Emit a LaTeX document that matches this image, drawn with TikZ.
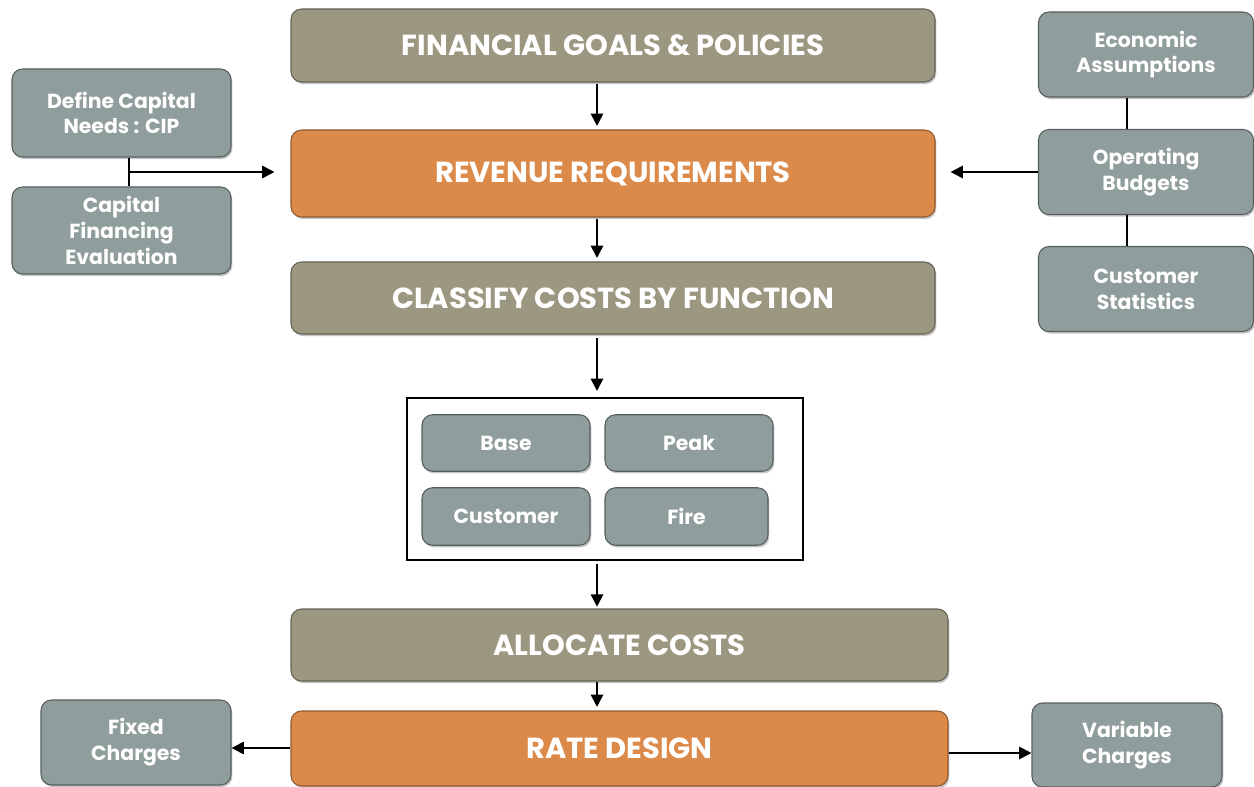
\documentclass[tikz,border=0pt]{standalone}
\usepackage{fontspec}
\setmainfont{Poppins}
\usetikzlibrary{arrows.meta,shadows}

\definecolor{olivebox}{RGB}{156,151,128}
\definecolor{orangebox}{RGB}{220,138,74}
\definecolor{slatebox}{RGB}{143,158,156}

\tikzset{
  box/.style={rounded corners=6pt, text=white, align=center, inner sep=2pt,
    drop shadow={opacity=0.45, shadow xshift=0.8pt, shadow yshift=-1.2pt}},
  stage/.style={box, fill=olivebox, draw=olivebox!65!black, line width=0.6pt,
    minimum width=12.88cm, minimum height=1.46cm, font=\bfseries\fontsize{16.5}{19}\selectfont},
  keystage/.style={stage, fill=orangebox, draw=orangebox!65!black},
  side/.style={box, fill=slatebox, draw=slatebox!60!black, line width=0.6pt,
    minimum width=4.38cm, minimum height=1.74cm, font=\bfseries\fontsize{11.6}{14.7}\selectfont},
  part/.style={side, minimum width=3.36cm, minimum height=1.13cm},
  flow/.style={line width=1.1pt, -{Triangle[length=7pt,width=7pt]}},
  link/.style={line width=1.1pt}
}

\begin{document}
\begin{tikzpicture}
  \useasboundingbox (0,0) rectangle (25.08,-15.74);

  % Main stages
  \node[stage] (goals) at (12.26,-0.91) {FINANCIAL GOALS \& POLICIES};
  \node[keystage, minimum height=1.74cm] (revenue) at (12.26,-3.47) {REVENUE REQUIREMENTS};
  \node[stage, minimum height=1.44cm] (classify) at (12.26,-5.96) {CLASSIFY COSTS BY FUNCTION};
  \node[stage, minimum width=13.14cm, minimum height=1.44cm] (allocate) at (12.39,-12.90) {ALLOCATE COSTS};
  \node[keystage, minimum width=13.14cm, minimum height=1.50cm] (rate) at (12.39,-14.97) {RATE DESIGN};

  % Cost components
  \draw[line width=1.1pt] (8.14,-7.96) rectangle (16.06,-11.20);
  \coordinate (parttop) at (8.14,-7.96);
  \coordinate (partbot) at (8.14,-11.20);
  \node[part] (base) at (10.12,-8.86) {Base};
  \node[part] (peak) at (13.78,-8.86) {Peak};
  \node[part, minimum height=1.15cm] (customer) at (10.12,-10.33) {Customer};
  \node[part, minimum width=3.26cm, minimum height=1.15cm] (fire) at (13.73,-10.33) {Fire};

  % Capital inputs (left)
  \node[side, minimum height=1.76cm] (capneeds) at (2.43,-2.26) {Define Capital\\Needs : CIP};
  \node[side] (capfin) at (2.43,-4.61) {Capital\\Financing\\Evaluation};

  % Operating inputs (right)
  \node[side, minimum width=4.30cm, minimum height=1.70cm] (econ) at (22.92,-1.09) {Economic\\Assumptions};
  \node[side, minimum width=4.30cm, minimum height=1.70cm] (oper) at (22.92,-3.44) {Operating\\Budgets};
  \node[side, minimum width=4.30cm, minimum height=1.70cm] (custstat) at (22.92,-5.78) {Customer\\Statistics};

  % Charges
  \node[side, minimum width=3.80cm, minimum height=1.70cm] (fixed) at (2.72,-14.85) {Fixed\\Charges};
  \node[side, minimum width=3.80cm, minimum height=1.68cm] (variable) at (22.54,-14.90) {Variable\\Charges};

  % Main flow
  \coordinate (axis) at (11.94,0);
  \draw[flow, shorten <=1pt, shorten >=2pt] (goals.south -| axis) -- (revenue.north -| axis);
  \draw[flow, shorten <=1pt, shorten >=2pt] (revenue.south -| axis) -- (classify.north -| axis);
  \draw[flow, shorten <=2pt, shorten >=4pt] (classify.south -| axis) -- (parttop -| axis);
  \draw[flow, shorten <=2pt, shorten >=1pt] (partbot -| axis) -- (allocate.north -| axis);
  \draw[flow, shorten >=2pt] (allocate.south -| axis) -- (rate.north -| axis);

  % Inputs into revenue requirements
  \coordinate (capjoin) at (2.58,-3.44);
  \draw[link] (capneeds.south -| capjoin) -- (capfin.north -| capjoin);
  \draw[flow, shorten >=0.32cm] (capjoin) -- (capjoin -| revenue.west);
  \coordinate (opjoin) at (22.54,0);
  \draw[link] (econ.south -| opjoin) -- (oper.north -| opjoin);
  \draw[link] (oper.south -| opjoin) -- (custstat.north -| opjoin);
  \draw[flow, shorten >=0.30cm] (oper.west) -- (oper.west -| revenue.east);

  % Rate design outputs
  \draw[flow] (rate.west |- 0,-14.96) -- (fixed.east |- 0,-14.96);
  \draw[flow] (rate.east |- 0,-15.06) -- (variable.west |- 0,-15.06);
\end{tikzpicture}
\end{document}
